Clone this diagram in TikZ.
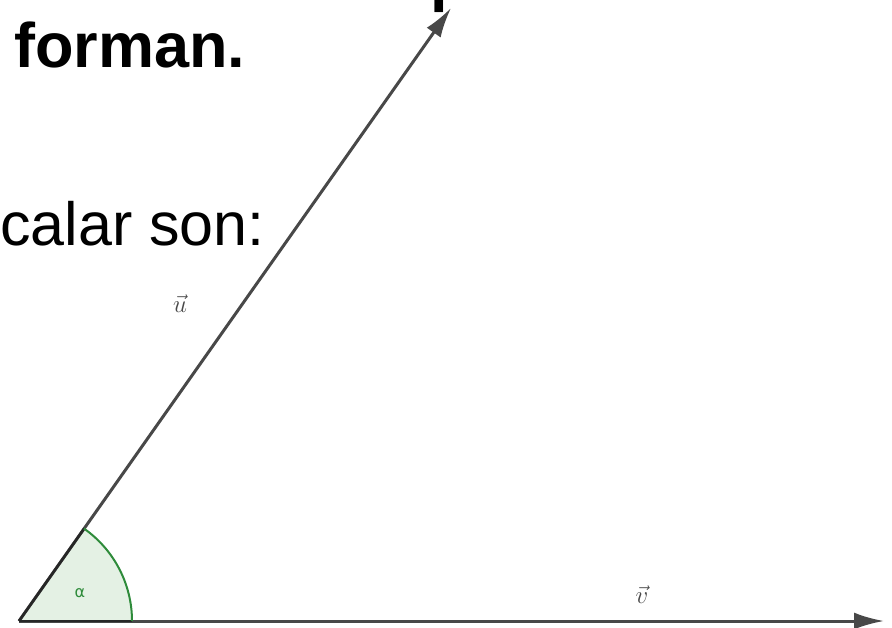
\documentclass[tikz,border=0pt]{standalone}
\usepackage{fontspec}
\setmainfont{Liberation Sans}
\newfontfamily\greekfont{DejaVu Sans}
\usepackage{tikz}
\usetikzlibrary{arrows.meta, calc}
\definecolor{vGray}{HTML}{484848}
\definecolor{aGreen}{HTML}{2E8B3A}
\definecolor{aFill}{HTML}{E4F1E4}

\begin{document}
\begin{tikzpicture}[x=1pt, y=-1pt,
  vec/.style={draw=vGray, line width=3pt, -{Latex[length=30pt, width=17pt]}},
  lbl/.style={text=vGray, font=\fontsize{25}{25}\selectfont, inner sep=0pt},
  head/.style={font=\fontsize{63}{63}\selectfont\bfseries, inner sep=0pt},
  body/.style={font=\fontsize{61}{61}\selectfont, inner sep=0pt},
]
  \useasboundingbox (0,0) rectangle (892,627);
  \clip (0,0) rectangle (892,627);

  % text of the slide
  \node[head, anchor=base west] (cut) at (430,-1) {p};
  \node[head, anchor=base west] (forman) at (14,67) {forman.};
  \node[body, anchor=base west] (son) at (0,245) {calar son:};

  % vectors
  \coordinate (O) at (19,621);
  \coordinate (U) at (451,8);
  \coordinate (V) at (884,621);
  \fill[aFill] (O) -- ++(113,0) arc[start angle=0, end angle=-54.9, radius=113] -- cycle;
  \draw[vec] (O) -- (U);
  \draw[vec] (O) -- (V);
  \draw[black!85, line width=2.5pt] (O) -- ++(113,0);
  \draw[black!85, line width=2.5pt] (O) -- ($(O)!113pt!(U)$);
  \draw[aGreen, line width=2pt] (O) ++(113,0) arc[start angle=0, end angle=-54.9, radius=113];

  % labels
  \node[lbl] (ulbl) at (180,304) {$\vec{u}$};
  \node[lbl] (vlbl) at (642,595) {$\vec{v}$};
  \node[text=aGreen, font=\greekfont\fontsize{16}{16}\selectfont, inner sep=0pt] (alpha) at (80,593) {α};
\end{tikzpicture}
\end{document}
